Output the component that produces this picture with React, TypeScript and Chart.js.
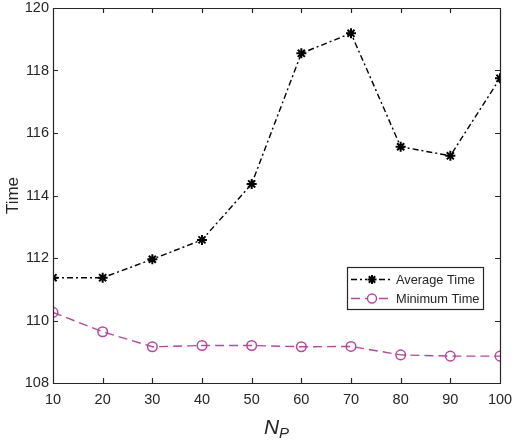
import React, { useEffect, useRef } from 'react';
import { Chart, registerables, Plugin } from 'chart.js';

Chart.register(...registerables);

// values
const npValues = [10, 20, 30, 40, 50, 60, 70, 80, 90, 100];
const averageTime = [111.37, 111.37, 111.96, 112.58, 114.37, 118.55, 119.19, 115.56, 115.27, 117.75];
const minimumTime = [110.26, 109.64, 109.16, 109.2, 109.2, 109.16, 109.17, 108.9, 108.86, 108.86];
const seriesNames = ['Average Time', 'Minimum Time'];

const AXIS_COLOR = '#262626';
const MAGENTA = '#b5479f';
const FONT = '"Liberation Sans", Arial, sans-serif';
const AVG_DASH = [6, 3, 2, 3];
const MIN_DASH = [9, 5];

// MATLAB style box with inward ticks on all four sides
const boxPlugin: Plugin<'line'> = {
  id: 'matlabBox',
  afterDraw(chart) {
    const { ctx, chartArea: a, scales } = chart;
    const xs = scales.x;
    const ys = scales.y;
    const len = 5;
    ctx.save();
    ctx.strokeStyle = AXIS_COLOR;
    ctx.lineWidth = 1.2;
    ctx.beginPath();
    ctx.rect(a.left + 0.5, a.top + 0.5, a.right - a.left, a.bottom - a.top);
    xs.ticks.forEach((t) => {
      const px = Math.round(xs.getPixelForValue(t.value)) + 0.5;
      ctx.moveTo(px, a.bottom);
      ctx.lineTo(px, a.bottom - len);
      ctx.moveTo(px, a.top);
      ctx.lineTo(px, a.top + len);
    });
    ys.ticks.forEach((t) => {
      const py = Math.round(ys.getPixelForValue(t.value)) + 0.5;
      ctx.moveTo(a.left, py);
      ctx.lineTo(a.left + len, py);
      ctx.moveTo(a.right, py);
      ctx.lineTo(a.right - len, py);
    });
    ctx.stroke();

    // x axis title N_P
    const cx = (a.left + a.right) / 2;
    const base = 434;
    ctx.fillStyle = AXIS_COLOR;
    ctx.textBaseline = 'alphabetic';
    ctx.font = `italic 21px ${FONT}`;
    const nW = ctx.measureText('N').width;
    ctx.font = `italic 15px ${FONT}`;
    const pW = ctx.measureText('P').width;
    const start = cx - (nW + pW) / 2;
    ctx.font = `italic 21px ${FONT}`;
    ctx.fillText('N', start, base);
    ctx.font = `italic 15px ${FONT}`;
    ctx.fillText('P', start + nW, base + 4);
    ctx.restore();
  },
};

// legend box in the lower right of the axes
const legendPlugin: Plugin<'line'> = {
  id: 'boxLegend',
  afterDraw(chart) {
    const { ctx } = chart;
    const bx = 347;
    const by = 267;
    const bw = 136;
    const bh = 42;
    ctx.save();
    ctx.fillStyle = '#ffffff';
    ctx.fillRect(bx, by, bw, bh);
    ctx.strokeStyle = AXIS_COLOR;
    ctx.lineWidth = 1.2;
    ctx.strokeRect(bx + 0.5, by + 0.5, bw, bh);

    const rows = [
      { y: by + 12, color: '#000000', dash: AVG_DASH, style: 'star' as const, name: seriesNames[0] },
      { y: by + 31, color: MAGENTA, dash: MIN_DASH, style: 'circle' as const, name: seriesNames[1] },
    ];
    rows.forEach((r) => {
      ctx.strokeStyle = r.color;
      ctx.lineWidth = 1.4;
      ctx.setLineDash(r.dash);
      ctx.beginPath();
      ctx.moveTo(bx + 4, r.y + 0.5);
      ctx.lineTo(bx + 46, r.y + 0.5);
      ctx.stroke();
      ctx.setLineDash([]);
      ctx.fillStyle = '#ffffff';
      if (r.style === 'circle') {
        ctx.beginPath();
        ctx.arc(bx + 25, r.y + 0.5, 4.5, 0, Math.PI * 2);
        ctx.fill();
        ctx.stroke();
      } else {
        ctx.fillRect(bx + 20, r.y - 4, 10, 9);
        ctx.lineWidth = 2;
        ctx.beginPath();
        for (let k = 0; k < 4; k++) {
          const ang = (k * Math.PI) / 4;
          ctx.moveTo(bx + 25 - 4.5 * Math.cos(ang), r.y + 0.5 - 4.5 * Math.sin(ang));
          ctx.lineTo(bx + 25 + 4.5 * Math.cos(ang), r.y + 0.5 + 4.5 * Math.sin(ang));
        }
        ctx.stroke();
      }
      ctx.fillStyle = AXIS_COLOR;
      ctx.font = `12.8px ${FONT}`;
      ctx.textBaseline = 'middle';
      ctx.fillText(r.name, bx + 49, r.y + 1);
    });
    ctx.restore();
  },
};

export default function App() {
  const canvasRef = useRef<HTMLCanvasElement>(null);
  const chartRef = useRef<Chart | null>(null);

  useEffect(() => {
    if (!canvasRef.current) return;
    if (chartRef.current) chartRef.current.destroy();
    const ctx = canvasRef.current.getContext('2d');
    if (!ctx) return;

    chartRef.current = new Chart(ctx, {
      type: 'line',
      data: {
        datasets: [
          {
            label: seriesNames[0],
            data: npValues.map((x, i) => ({ x, y: averageTime[i] })),
            borderColor: '#000000',
            backgroundColor: '#000000',
            borderWidth: 1.4,
            borderDash: AVG_DASH,
            pointStyle: 'star',
            pointRadius: 5,
            pointBorderWidth: 2,
            pointBorderColor: '#000000',
            tension: 0,
          },
          {
            label: seriesNames[1],
            data: npValues.map((x, i) => ({ x, y: minimumTime[i] })),
            borderColor: MAGENTA,
            backgroundColor: 'rgba(0,0,0,0)',
            borderWidth: 1.4,
            borderDash: MIN_DASH,
            pointStyle: 'circle',
            pointRadius: 4.8,
            pointBorderWidth: 1.5,
            pointBorderColor: MAGENTA,
            pointBackgroundColor: 'rgba(0,0,0,0)',
            tension: 0,
          },
        ],
      },
      options: {
        animation: false,
        responsive: true,
        maintainAspectRatio: false,
        layout: { padding: { top: 8, right: 14, left: 0, bottom: 0 } },
        plugins: {
          legend: { display: false },
          tooltip: { enabled: false },
        },
        scales: {
          x: {
            type: 'linear',
            min: 10,
            max: 100,
            grid: { display: false, tickLength: 0 },
            border: { display: false },
            ticks: {
              stepSize: 10,
              color: AXIS_COLOR,
              padding: 8,
              maxRotation: 0,
              font: { family: FONT, size: 14.5 },
            },
            afterFit: (scale) => {
              scale.height = 57;
              scale.paddingLeft = 0;
              scale.paddingRight = 0;
            },
          },
          y: {
            min: 108,
            max: 120,
            grid: { display: false, tickLength: 0 },
            border: { display: false },
            ticks: {
              stepSize: 2,
              color: AXIS_COLOR,
              padding: 4,
              font: { family: FONT, size: 14.5 },
            },
            title: {
              display: true,
              text: 'Time',
              color: AXIS_COLOR,
              padding: { top: 3, bottom: 0 },
              font: { family: FONT, size: 17 },
            },
            afterFit: (scale) => {
              scale.width = 53;
              scale.paddingTop = 0;
              scale.paddingBottom = 0;
            },
          },
        },
      },
      plugins: [boxPlugin, legendPlugin],
    });

    return () => {
      if (chartRef.current) {
        chartRef.current.destroy();
        chartRef.current = null;
      }
    };
  }, []);

  return (
    <div style={{ position: 'fixed', left: 0, top: 0, width: 514, height: 440, background: '#ffffff' }}>
      <canvas ref={canvasRef}></canvas>
    </div>
  );
}
